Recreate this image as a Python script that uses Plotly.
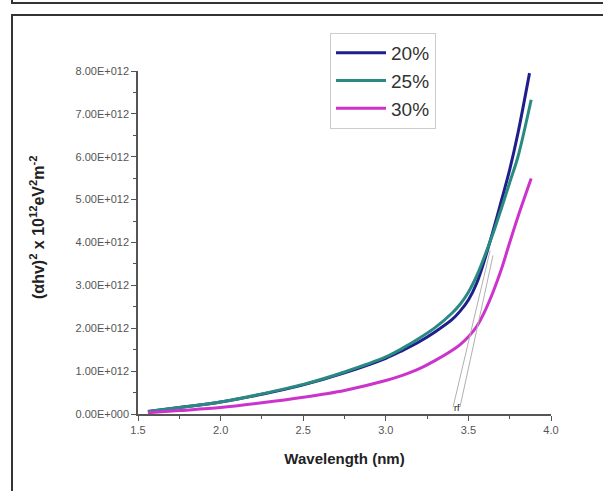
import plotly.graph_objects as go

# ---- data (y in units of 1e12 eV^2 m^-2) ----
x_20 = [1.56, 1.75, 2.0, 2.25, 2.5, 2.75, 3.0, 3.1, 3.2, 3.3, 3.4, 3.45, 3.5, 3.55, 3.6, 3.65, 3.7, 3.75, 3.8, 3.87]
y_20 = [0.06, 0.15, 0.28, 0.46, 0.68, 0.96, 1.30, 1.48, 1.68, 1.92, 2.20, 2.40, 2.66, 3.05, 3.62, 4.28, 4.98, 5.70, 6.55, 7.95]
x_25 = [1.56, 1.75, 2.0, 2.25, 2.5, 2.75, 3.0, 3.1, 3.2, 3.3, 3.4, 3.45, 3.5, 3.55, 3.6, 3.65, 3.7, 3.75, 3.8, 3.88]
y_25 = [0.06, 0.15, 0.28, 0.47, 0.69, 0.98, 1.33, 1.53, 1.76, 2.02, 2.35, 2.56, 2.84, 3.22, 3.70, 4.22, 4.80, 5.40, 6.00, 7.33]
x_30 = [1.56, 1.75, 2.0, 2.25, 2.5, 2.75, 3.0, 3.1, 3.2, 3.3, 3.4, 3.45, 3.5, 3.55, 3.6, 3.65, 3.7, 3.75, 3.8, 3.88]
y_30 = [0.03, 0.08, 0.15, 0.26, 0.39, 0.55, 0.78, 0.90, 1.05, 1.25, 1.48, 1.62, 1.80, 2.04, 2.40, 2.85, 3.38, 4.00, 4.60, 5.49]

series_names = ["20%", "25%", "30%"]

# tangent (extrapolation) lines
tan_a_x = [3.407, 3.631]
tan_a_y = [0.16, 3.81]
tan_b_x = [3.449, 3.649]
tan_b_y = [0.16, 3.70]

x_tickvals = [1.5, 2.0, 2.5, 3.0, 3.5, 4.0]
x_ticktext = ["1.5", "2.0", "2.5", "3.0", "3.5", "4.0"]
y_tickvals = [0, 1, 2, 3, 4, 5, 6, 7, 8]
y_ticktext = ["0.00E+000", "1.00E+012", "2.00E+012", "3.00E+012", "4.00E+012",
              "5.00E+012", "6.00E+012", "7.00E+012", "8.00E+012"]

colors = ["#1f1f8c", "#2a8a82", "#cc33cc"]

fig = go.Figure()
for xs, ys, name, c in zip([x_20, x_25, x_30], [y_20, y_25, y_30], series_names, colors):
    fig.add_trace(go.Scatter(x=xs, y=ys, name=name, mode="lines",
                             line=dict(color=c, width=3, shape="spline", smoothing=0.9)))

for tx, ty in [(tan_a_x, tan_a_y), (tan_b_x, tan_b_y)]:
    fig.add_trace(go.Scatter(x=tx, y=ty, mode="lines", showlegend=False,
                             line=dict(color="#b0b0b0", width=1), hoverinfo="skip"))

fig.add_annotation(x=3.43, y=0.13, text="rf", showarrow=False,
                   font=dict(family="Arial", size=9, color="#111"))

axis_common = dict(showline=True, linecolor="#555", linewidth=1.5, mirror=False,
                   ticks="outside", ticklen=5, tickcolor="#555", tickwidth=1,
                   showgrid=False, zeroline=False,
                   tickfont=dict(family="Arial", size=11, color="#555"))

fig.update_xaxes(range=[1.5, 4.0], tickvals=x_tickvals, ticktext=x_ticktext,
                 minor=dict(dtick=0.25, tick0=1.5, ticks="outside", ticklen=3, tickcolor="#555"),
                 title=dict(text="<b>Wavelength (nm)</b>", standoff=19,
                            font=dict(family="Arial", size=15, color="#222")),
                 **axis_common)
fig.update_yaxes(range=[0, 8], tickvals=y_tickvals, ticktext=y_ticktext,
                 minor=dict(dtick=0.5, tick0=0, ticks="outside", ticklen=3, tickcolor="#555"),
                 **axis_common)


def px2paper_x(px):
    return (px - 138) / 413


def px2paper_y(py):
    return (414 - py) / 343


fig.add_annotation(xref="paper", yref="paper", x=px2paper_x(37), y=px2paper_y(228),
                   xanchor="center", yanchor="middle",
                   text="<b>(αhv)<sup>2</sup> x 10<sup>12</sup>eV<sup>2</sup>m<sup>-2</sup></b>",
                   textangle=-90, showarrow=False,
                   font=dict(family="Arial", size=16, color="#222"))

# frame rectangles
fig.add_shape(type="rect", xref="paper", yref="paper",
              x0=px2paper_x(12), x1=px2paper_x(620), y0=px2paper_y(-20), y1=px2paper_y(3),
              line=dict(color="#333", width=2), fillcolor="rgba(0,0,0,0)", layer="above")
fig.add_shape(type="rect", xref="paper", yref="paper",
              x0=px2paper_x(12), x1=px2paper_x(620), y0=px2paper_y(15), y1=px2paper_y(520),
              line=dict(color="#333", width=2), fillcolor="rgba(0,0,0,0)", layer="above")

fig.update_layout(
    width=603, height=491,
    margin=dict(l=138, r=52, t=71, b=77),
    paper_bgcolor="white", plot_bgcolor="white",
    font=dict(family="Arial"),
    legend=dict(x=px2paper_x(330), y=px2paper_y(33), xanchor="left", yanchor="top",
                bgcolor="white", bordercolor="#cccccc", borderwidth=1,
                font=dict(family="Arial", size=19, color="#333"),
                itemwidth=50, tracegroupgap=0),
)

fig.write_html("out.html", config={"displayModeBar": False},
               post_script="document.body.style.margin='0';")
